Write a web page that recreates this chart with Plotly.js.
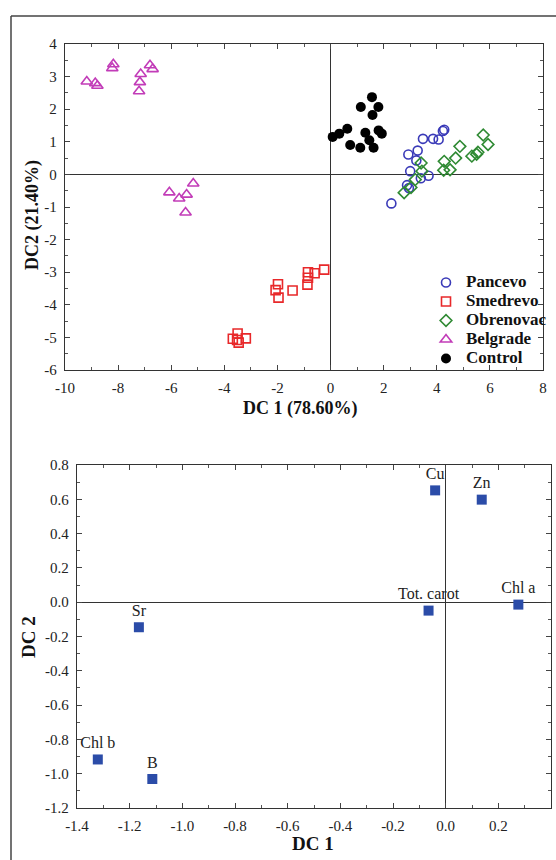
<!DOCTYPE html>
<html>
<head>
<meta charset="utf-8">
<script src="https://cdn.plot.ly/plotly-3.0.1.min.js"></script>
<style>html,body{margin:0;padding:0;background:#fff;}#chart{width:556px;height:860px;}</style>
</head>
<body>
<div id="chart"></div>
<script>
// ---- Top chart data (discriminant scores) ----
const pancevoX = [4.28, 4.23, 3.48, 3.86, 4.07, 3.28, 2.93, 3.23, 3.00, 3.69, 3.40, 2.88, 2.95, 2.29];
const pancevoY = [1.37, 1.33, 1.09, 1.09, 1.07, 0.73, 0.61, 0.43, 0.10, -0.04, -0.12, -0.33, -0.42, -0.89];
const smedrevoX = [-0.24, -0.60, -0.85, -0.85, -0.87, -1.43, -1.98, -2.07, -1.96, -3.50, -3.68, -3.19, -3.46, -3.52];
const smedrevoY = [-2.92, -3.03, -3.00, -3.17, -3.38, -3.56, -3.37, -3.55, -3.78, -4.88, -5.04, -5.03, -5.16, -5.08];
const obrenovacX = [5.75, 5.93, 4.87, 4.71, 5.32, 5.55, 5.50, 4.28, 4.26, 4.50, 3.41, 3.44, 3.19, 3.03, 2.77];
const obrenovacY = [1.21, 0.92, 0.86, 0.50, 0.56, 0.68, 0.62, 0.40, 0.13, 0.14, 0.35, 0.10, -0.16, -0.40, -0.56];
const belgradeX = [-9.18, -8.86, -8.78, -8.18, -8.22, -7.15, -7.18, -7.21, -6.80, -6.70, -6.07, -5.70, -5.42, -5.17, -5.46];
const belgradeY = [2.85, 2.80, 2.72, 3.38, 3.26, 3.08, 2.83, 2.55, 3.35, 3.23, -0.55, -0.74, -0.62, -0.28, -1.17];
const controlX = [1.56, 1.14, 1.80, 1.58, 0.63, 0.33, 0.08, 1.31, 1.81, 1.93, 1.46, 0.74, 1.12, 1.62];
const controlY = [2.37, 2.07, 2.07, 1.82, 1.40, 1.25, 1.15, 1.28, 1.35, 1.25, 1.05, 0.90, 0.82, 0.82];

// ---- Bottom chart data (structure coefficients) ----
const varLabels = ['Cu', 'Zn', 'Tot. carot', 'Chl a', 'Sr', 'Chl b', 'B'];
const varX = [-0.040, 0.137, -0.065, 0.276, -1.165, -1.321, -1.114];
const varY = [0.652, 0.598, -0.049, -0.014, -0.146, -0.917, -1.031];

// ---- Tick labels ----
const topXTicks = [-10, -8, -6, -4, -2, 0, 2, 4, 6, 8];
const topXText = ['-10', '-8', '-6', '-4', '-2', '0', '2', '4', '6', '8'];
const topYTicks = [4, 3, 2, 1, 0, -1, -2, -3, -4, -5, -6];
const topYText = ['4', '3', '2', '1', '0', '-1', '-2', '-3', '-4', '-5', '-6'];
const botXTicks = [-1.4, -1.2, -1.0, -0.8, -0.6, -0.4, -0.2, 0.0, 0.2, 0.4];
const botXText = ['-1.4', '-1.2', '-1.0', '-0.8', '-0.6', '-0.4', '-0.2', '0.0', '0.2', '0.4'];
const botYTicks = [0.8, 0.6, 0.4, 0.2, 0.0, -0.2, -0.4, -0.6, -0.8, -1.0, -1.2];
const botYText = ['0.8', '0.6', '0.4', '0.2', '0.0', '-0.2', '-0.4', '-0.6', '-0.8', '-1.0', '-1.2'];

const W = 556, H = 860;
const px = v => v / W;
const py = v => 1 - v / H;
const SERIF = 'Liberation Serif, Times New Roman, serif';

function scat(name, x, y, symbol, color, size, filled) {
  return {
    type: 'scatter', mode: 'markers',
    name: '<span style="font-size:17px">' + name + '</span>',
    x: x, y: y, xaxis: 'x', yaxis: 'y',
    marker: {
      symbol: symbol, size: size, color: color,
      line: {color: color, width: filled ? 0 : 1.6}
    }
  };
}

const traces = [
  scat('Pancevo', pancevoX, pancevoY, 'circle-open', '#3a3ab8', 9, false),
  scat('Smedrevo', smedrevoX, smedrevoY, 'square-open', '#e8282a', 9, false),
  scat('Obrenovac', obrenovacX, obrenovacY, 'diamond-open', '#2f8a33', 9, false),
  scat('Belgrade', belgradeX, belgradeY, 'triangle-up-open', '#c23cb8', 10, false),
  scat('Control', controlX, controlY, 'circle', '#000000', 10, true),
  {
    type: 'scatter', mode: 'markers+text', x: varX, y: varY, text: varLabels,
    textposition: 'top center', xaxis: 'x2', yaxis: 'y2', showlegend: false,
    textfont: {family: SERIF, size: 16, color: '#222'},
    marker: {symbol: 'square', size: 10, color: '#2b4ca8'}
  }
];

const minorBase = {ticks: 'inside', ticklen: 3, tickcolor: '#555', tickwidth: 1};
const axisBase = {
  showgrid: false, showline: true, linecolor: '#333', linewidth: 1.2, mirror: 'ticks',
  ticks: 'inside', ticklen: 5, tickcolor: '#444', tickwidth: 1,
  ticklabelstandoff: 4,
  tickfont: {family: SERIF, size: 15, color: '#222'},
  zeroline: true, zerolinecolor: '#333', zerolinewidth: 1,
  tickmode: 'array', fixedrange: true
};

const layout = {
  width: W, height: H,
  margin: {l: 0, r: 0, t: 0, b: 0},
  paper_bgcolor: '#fff', plot_bgcolor: '#fff',
  showlegend: true,
  legend: {
    x: px(426), y: py(268), xanchor: 'left', yanchor: 'top',
    bgcolor: 'rgba(255,255,255,0)',
    font: {family: SERIF, size: 12, color: '#111', weight: 'bold'},
    tracegroupgap: 0
  },
  xaxis: Object.assign({}, axisBase, {
    domain: [px(65), px(543)], range: [-10, 8], anchor: 'y',
    tickvals: topXTicks, ticktext: topXText,
    minor: Object.assign({tickmode: 'linear', tick0: -10, dtick: 1}, minorBase)
  }),
  yaxis: Object.assign({}, axisBase, {
    domain: [py(370), py(44)], range: [-6, 4], anchor: 'x',
    tickvals: topYTicks, ticktext: topYText,
    minor: Object.assign({tickmode: 'linear', tick0: -6, dtick: 0.5}, minorBase)
  }),
  xaxis2: Object.assign({}, axisBase, {
    domain: [px(77), px(551)], range: [-1.4, 0.4], anchor: 'y2',
    tickvals: botXTicks, ticktext: botXText,
    minor: Object.assign({tickmode: 'linear', tick0: -1.4, dtick: 0.1}, minorBase)
  }),
  yaxis2: Object.assign({}, axisBase, {
    domain: [py(808), py(465)], range: [-1.2, 0.8], anchor: 'x2',
    tickvals: botYTicks, ticktext: botYText,
    minor: Object.assign({tickmode: 'linear', tick0: -1.2, dtick: 0.1}, minorBase)
  }),
  annotations: [
    {text: '<b>DC 1 (78.60%)</b>', xref: 'paper', yref: 'paper', x: px(300), y: py(408),
     xanchor: 'center', yanchor: 'middle',
     showarrow: false, font: {family: SERIF, size: 18, color: '#111'}},
    {text: '<b>DC2 (21.40%)</b>', xref: 'paper', yref: 'paper', x: px(32), y: py(215),
     xanchor: 'center', yanchor: 'middle',
     showarrow: false, textangle: -90, font: {family: SERIF, size: 18, color: '#111'}},
    {text: '<b>DC 1</b>', xref: 'paper', yref: 'paper', x: px(313), y: py(843),
     xanchor: 'center', yanchor: 'middle',
     showarrow: false, font: {family: SERIF, size: 19, color: '#111'}},
    {text: '<b>DC 2</b>', xref: 'paper', yref: 'paper', x: px(28), y: py(637),
     xanchor: 'center', yanchor: 'middle',
     showarrow: false, textangle: -90, font: {family: SERIF, size: 19, color: '#111'}}
  ],
  shapes: [
    {type: 'line', xref: 'paper', yref: 'paper', x0: px(11), x1: 1, y0: py(16), y1: py(16),
     line: {color: '#444', width: 1.5}},
    {type: 'line', xref: 'paper', yref: 'paper', x0: px(11), x1: px(11), y0: py(16), y1: 0,
     line: {color: '#444', width: 1.5}}
  ]
};

Plotly.newPlot('chart', traces, layout, {staticPlot: true, displayModeBar: false});
</script>
</body>
</html>
